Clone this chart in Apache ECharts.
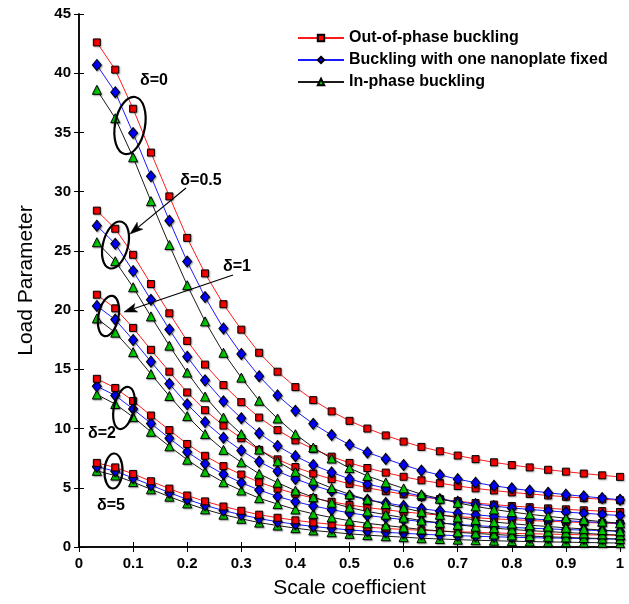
<!DOCTYPE html>
<html>
<head>
<meta charset="utf-8">
<script src="https://cdn.jsdelivr.net/npm/echarts@6/dist/echarts.min.js"></script>
<style>
  html, body { margin: 0; padding: 0; background: #fff; }
  #chart { width: 629px; height: 604px; }
</style>
</head>
<body>
<div id="chart"></div>
<script>
// Scale coefficient samples (x axis)
const scaleCoef = [0.033, 0.067, 0.1, 0.133, 0.167, 0.2, 0.233, 0.267, 0.3, 0.333,
  0.367, 0.4, 0.433, 0.467, 0.5, 0.533, 0.567, 0.6, 0.633, 0.667,
  0.7, 0.733, 0.767, 0.8, 0.833, 0.867, 0.9, 0.933, 0.967, 1];

// δ = 0
const outPhase0 = [42.6, 40.3, 37.0, 33.3, 29.6, 26.1, 23.1, 20.5, 18.35, 16.4, 14.8, 13.5, 12.4, 11.45, 10.65, 10.0, 9.42, 8.9, 8.45, 8.08, 7.72, 7.42, 7.15, 6.92, 6.72, 6.52, 6.36, 6.2, 6.05, 5.92];
const fixed0    = [40.7, 38.4, 34.95, 31.3, 27.55, 24.1, 21.1, 18.45, 16.3, 14.42, 12.8, 11.5, 10.4, 9.45, 8.63, 7.98, 7.44, 6.93, 6.45, 6.08, 5.73, 5.43, 5.17, 4.95, 4.76, 4.58, 4.42, 4.28, 4.13, 3.99];
const inPhase0  = [38.6, 36.2, 32.9, 29.2, 25.5, 22.1, 19.05, 16.4, 14.3, 12.35, 10.85, 9.52, 8.4, 7.47, 6.66, 6.0, 5.45, 4.95, 4.45, 4.08, 3.73, 3.43, 3.17, 2.95, 2.76, 2.59, 2.43, 2.29, 2.14, 2.0];

// δ = 0.5
const outPhase05 = [28.4, 26.87, 24.67, 22.2, 19.73, 17.4, 15.4, 13.67, 12.23, 10.93, 9.87, 9.0, 8.27, 7.63, 7.1, 6.67, 6.28, 5.93, 5.63, 5.39, 5.15, 4.95, 4.77, 4.61, 4.48, 4.35, 4.24, 4.13, 4.03, 3.95];
const fixed05    = [27.13, 25.6, 23.3, 20.87, 18.37, 16.07, 14.07, 12.3, 10.87, 9.61, 8.53, 7.67, 6.93, 6.3, 5.75, 5.32, 4.96, 4.62, 4.3, 4.05, 3.82, 3.62, 3.45, 3.3, 3.17, 3.05, 2.95, 2.85, 2.75, 2.66];
const inPhase05  = [25.73, 24.13, 21.93, 19.47, 17.0, 14.73, 12.7, 10.93, 9.53, 8.23, 7.23, 6.35, 5.6, 4.98, 4.44, 4.0, 3.63, 3.3, 2.97, 2.72, 2.49, 2.29, 2.11, 1.97, 1.84, 1.73, 1.62, 1.53, 1.43, 1.33];

// δ = 1
const outPhase1 = [21.3, 20.15, 18.5, 16.65, 14.8, 13.05, 11.55, 10.25, 9.18, 8.2, 7.4, 6.75, 6.2, 5.73, 5.33, 5.0, 4.71, 4.45, 4.23, 4.04, 3.86, 3.71, 3.58, 3.46, 3.36, 3.26, 3.18, 3.1, 3.03, 2.96];
const fixed1    = [20.35, 19.2, 17.48, 15.65, 13.78, 12.05, 10.55, 9.23, 8.15, 7.21, 6.4, 5.75, 5.2, 4.73, 4.32, 3.99, 3.72, 3.47, 3.23, 3.04, 2.87, 2.72, 2.59, 2.48, 2.38, 2.29, 2.21, 2.14, 2.07, 2.0];
const inPhase1  = [19.3, 18.1, 16.45, 14.6, 12.75, 11.05, 9.53, 8.2, 7.15, 6.18, 5.43, 4.76, 4.2, 3.74, 3.33, 3.0, 2.73, 2.48, 2.23, 2.04, 1.87, 1.72, 1.59, 1.48, 1.38, 1.3, 1.22, 1.15, 1.07, 1.0];

// δ = 2
const outPhase2 = [14.2, 13.43, 12.33, 11.1, 9.87, 8.7, 7.7, 6.83, 6.12, 5.47, 4.93, 4.5, 4.13, 3.82, 3.55, 3.33, 3.14, 2.97, 2.82, 2.69, 2.57, 2.47, 2.38, 2.31, 2.24, 2.17, 2.12, 2.07, 2.02, 1.97];
const fixed2    = [13.57, 12.8, 11.65, 10.43, 9.18, 8.03, 7.03, 6.15, 5.43, 4.81, 4.27, 3.83, 3.47, 3.15, 2.88, 2.66, 2.48, 2.31, 2.15, 2.03, 1.91, 1.81, 1.72, 1.65, 1.59, 1.53, 1.47, 1.43, 1.38, 1.33];
const inPhase2  = [12.87, 12.07, 10.97, 9.73, 8.5, 7.37, 6.35, 5.47, 4.77, 4.12, 3.62, 3.17, 2.8, 2.49, 2.22, 2.0, 1.82, 1.65, 1.48, 1.36, 1.24, 1.14, 1.06, 0.98, 0.92, 0.86, 0.81, 0.76, 0.71, 0.67];

// δ = 5
const outPhase5 = [7.1, 6.72, 6.17, 5.55, 4.93, 4.35, 3.85, 3.42, 3.06, 2.73, 2.47, 2.25, 2.07, 1.91, 1.78, 1.67, 1.57, 1.48, 1.41, 1.35, 1.29, 1.24, 1.19, 1.15, 1.12, 1.09, 1.06, 1.03, 1.01, 0.99];
const fixed5    = [6.78, 6.4, 5.83, 5.22, 4.59, 4.02, 3.52, 3.08, 2.72, 2.4, 2.13, 1.92, 1.73, 1.58, 1.44, 1.33, 1.24, 1.16, 1.08, 1.01, 0.96, 0.91, 0.86, 0.83, 0.79, 0.76, 0.74, 0.71, 0.69, 0.67];
const inPhase5  = [6.43, 6.03, 5.48, 4.87, 4.25, 3.68, 3.18, 2.73, 2.38, 2.06, 1.81, 1.59, 1.4, 1.25, 1.11, 1.0, 0.91, 0.83, 0.74, 0.68, 0.62, 0.57, 0.53, 0.49, 0.46, 0.43, 0.41, 0.38, 0.36, 0.33];

const modeNames = ['Out-of-phase buckling', 'Buckling with one nanoplate fixed', 'In-phase buckling'];
const deltaLabels = ['δ=0', 'δ=0.5', 'δ=1', 'δ=2', 'δ=5'];

const FONT = '"Liberation Sans", Arial, Helvetica, sans-serif';

const modeStyles = [
  { symbol: 'rect', size: 7, fill: '#ff0000', line: '#ff1a1a' },
  { symbol: 'diamond', size: [9, 11], fill: '#0000ff', line: '#1a1aff' },
  { symbol: 'triangle', size: 9, fill: '#00d000', line: '#1a1a1a' }
];

const groups = [
  [inPhase5, fixed5, outPhase5],
  [inPhase2, fixed2, outPhase2],
  [inPhase1, fixed1, outPhase1],
  [inPhase05, fixed05, outPhase05],
  [inPhase0, fixed0, outPhase0]
];

function pairs(vals) { return scaleCoef.map((x, i) => [x, vals[i]]); }

const series = [];
groups.forEach(g => {
  // order inside a group: in-phase, fixed, out-of-phase
  [2, 1, 0].forEach((m, j) => {
    const st = modeStyles[m];
    series.push({
      name: modeNames[m],
      type: 'line',
      data: pairs(g[j]),
      symbol: st.symbol,
      symbolSize: st.size,
      showAllSymbol: true,
      animation: false,
      lineStyle: { color: st.line, width: 1 },
      itemStyle: {
        color: st.fill, borderColor: '#000', borderWidth: 1,
        shadowColor: 'rgba(0,0,0,0.35)', shadowBlur: 1.5, shadowOffsetX: 1, shadowOffsetY: 1
      },
      emphasis: { disabled: true }
    });
  });
});

const axisLineStyle = { color: '#000', width: 1.5 };
const tickStyle = { inside: true, length: 5, lineStyle: { color: '#000', width: 1 } };
const labelStyle = { color: '#000', fontFamily: FONT, fontWeight: 'bold', fontSize: 15 };

const option = {
  animation: false,
  backgroundColor: '#fff',
  grid: { left: 79, right: 9, top: 14, bottom: 56, containLabel: false },
  legend: {
    data: modeNames,
    orient: 'vertical',
    left: 292,
    top: 25,
    itemWidth: 46,
    itemHeight: 8,
    itemGap: 6,
    textStyle: { color: '#000', fontFamily: FONT, fontWeight: 'bold', fontSize: 16, lineHeight: 16 },
    selectedMode: false
  },
  xAxis: [
    {
      type: 'value', min: 0, max: 1, interval: 0.1, position: 'bottom',
      name: 'Scale coefficient', nameLocation: 'middle', nameGap: 31,
      nameTextStyle: { color: '#000', fontFamily: FONT, fontSize: 21 },
      axisLine: { show: true, lineStyle: axisLineStyle },
      axisTick: tickStyle,
      axisLabel: Object.assign({ margin: 9 }, labelStyle),
      splitLine: { show: false }
    },
    {
      type: 'value', min: 0, max: 1, interval: 0.1, position: 'top',
      axisLine: { show: true, lineStyle: axisLineStyle },
      axisTick: tickStyle,
      axisLabel: { show: false },
      splitLine: { show: false }
    }
  ],
  yAxis: [
    {
      type: 'value', min: 0, max: 45, interval: 5, position: 'left',
      name: 'Load Parameter', nameLocation: 'middle', nameGap: 42, nameRotate: 90,
      nameTextStyle: { color: '#000', fontFamily: FONT, fontSize: 21 },
      axisLine: { show: true, lineStyle: axisLineStyle },
      axisTick: tickStyle,
      axisLabel: Object.assign({ margin: 8 }, labelStyle),
      splitLine: { show: false }
    },
    {
      type: 'value', min: 0, max: 45, interval: 5, position: 'right',
      axisLine: { show: true, lineStyle: axisLineStyle },
      axisTick: tickStyle,
      axisLabel: { show: false },
      splitLine: { show: false }
    }
  ],
  series: series
};

// Annotation helpers: ellipses around curve groups, δ labels and arrows
function ellipse(cx, cy, rx, ry, rot) {
  return {
    type: 'ellipse', x: cx, y: cy, rotation: rot, z: 100,
    shape: { cx: 0, cy: 0, rx: rx, ry: ry },
    style: { fill: 'none', stroke: '#000', lineWidth: 2.2 }
  };
}
function label(text, cx, cy) {
  return {
    type: 'text', x: cx, y: cy, z: 100,
    style: { text: text, fill: '#000', font: 'bold 16px ' + FONT, textAlign: 'center', textVerticalAlign: 'middle' }
  };
}
function arrow(x1, y1, x2, y2) {
  const dx = x2 - x1, dy = y2 - y1;
  const len = Math.sqrt(dx * dx + dy * dy);
  const ux = dx / len, uy = dy / len;
  const hl = 13, hw = 4.5;
  const bx = x2 - ux * hl, by = y2 - uy * hl;
  const px = -uy, py = ux;
  return [
    { type: 'line', z: 100, shape: { x1: x1, y1: y1, x2: bx + ux * 3, y2: by + uy * 3 },
      style: { stroke: '#000', lineWidth: 1.2 } },
    { type: 'polygon', z: 100,
      shape: { points: [[x2, y2], [bx + px * hw, by + py * hw], [bx + ux * 3, by + uy * 3], [bx - px * hw, by - py * hw]] },
      style: { fill: '#000', stroke: '#000', lineWidth: 0.5 } }
  ];
}

option.graphic = [
  ellipse(130, 125.5, 15, 29, -0.18),
  label(deltaLabels[0], 154, 81),
  ellipse(115.5, 245, 12.5, 24, -0.25),
  label(deltaLabels[1], 201, 181),
  ...arrow(186, 188, 130, 234),
  ellipse(108.5, 316, 10, 20.5, -0.2),
  label(deltaLabels[2], 237, 267),
  ...arrow(233, 275, 124, 312),
  ellipse(124, 408, 10, 21.5, -0.22),
  label(deltaLabels[3], 102, 434),
  ellipse(113.5, 471, 9, 17.5, -0.05),
  label(deltaLabels[4], 111, 506)
];

const chart = echarts.init(document.getElementById('chart'), null, { renderer: 'canvas' });
chart.setOption(option);
</script>
</body>
</html>
